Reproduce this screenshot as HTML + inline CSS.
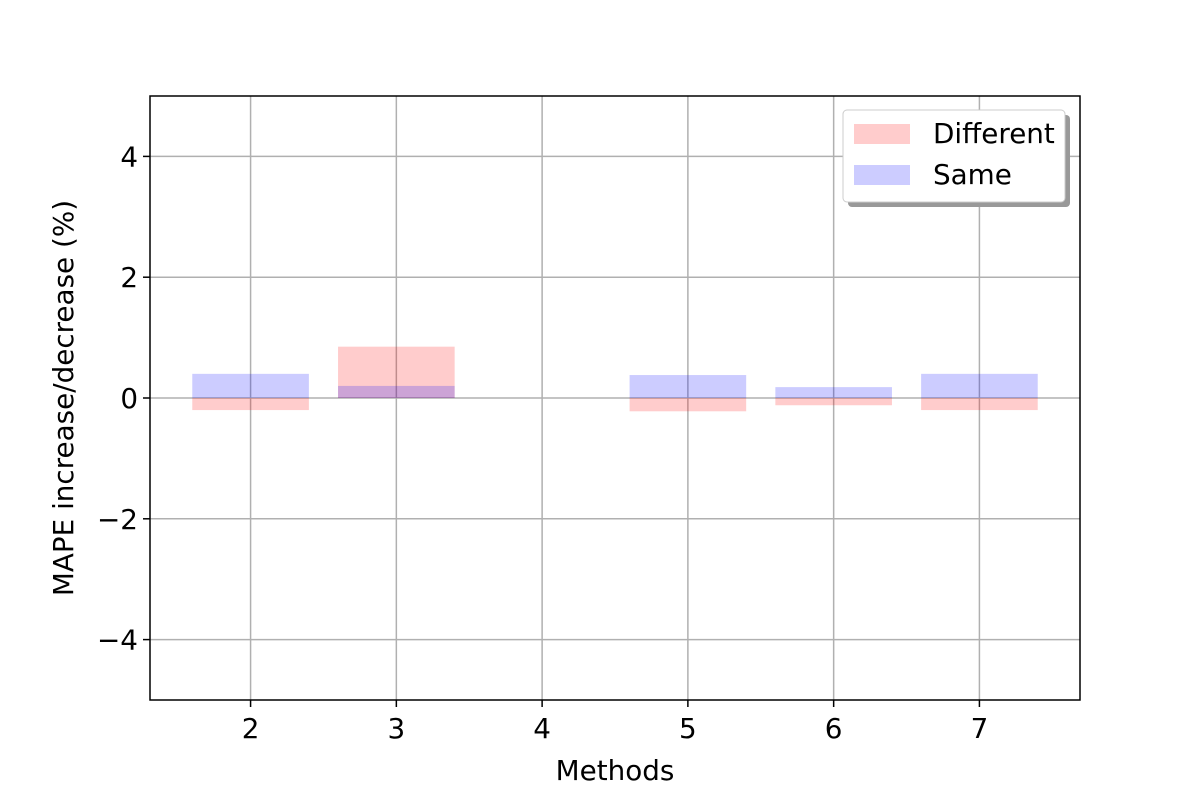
<!DOCTYPE html>
<html><head><meta charset="utf-8"><style>
body{margin:0;background:#fff;}
svg text{font-family:"DejaVu Sans","Liberation Sans",sans-serif;font-size:27.8px;fill:#000;}
</style></head><body>
<svg id="chart" width="1200" height="800">
<rect width="1200" height="800" fill="#fff"/>
<g id="grid"></g><g id="bars"></g><g id="axes"></g>
<g>
<rect x="848" y="115" width="222" height="92" rx="4" fill="#999"/>
<rect x="843" y="110" width="222" height="92" rx="4" fill="#fff" stroke="#ccc"/>
<rect x="854" y="124" width="56" height="20" fill="#f00" fill-opacity="0.2"/>
<text x="933" y="143">Different</text>
<rect x="854" y="165" width="56" height="20" fill="#00f" fill-opacity="0.2"/>
<text x="933" y="184">Same</text>
</g>
</svg>
<script>
const categories=[2,3,4,5,6,7];
const different=[-0.2,0.85,0,-0.22,-0.12,-0.2];
const same=[0.4,0.2,0,0.38,0.18,0.4];
const yTicks=[-4,-2,0,2,4];
const L=150,R=1080,T=96,B=700,xmin=1.31,xmax=7.69,ymin=-5,ymax=5;
const X=v=>L+(v-xmin)/(xmax-xmin)*(R-L);
const Y=v=>B-(v-ymin)/(ymax-ymin)*(B-T);
const NS="http://www.w3.org/2000/svg";
function mk(tag,attrs,parent,text){const e=document.createElementNS(NS,tag);for(const k in attrs)e.setAttribute(k,attrs[k]);if(text!==undefined)e.textContent=text;parent.appendChild(e);return e;}
const grid=document.getElementById('grid'),bars=document.getElementById('bars'),axes=document.getElementById('axes');
categories.forEach(c=>{const g=mk('line',{x1:X(c),x2:X(c),y1:T,y2:B,stroke:'#b0b0b0','stroke-width':1.5},grid);


mk('line',{x1:X(c),x2:X(c),y1:B,y2:B+7,stroke:'#000','stroke-width':1.5},axes);
const t=mk('text',{x:X(c),y:B+38,'text-anchor':'middle'},axes,String(c));

});
yTicks.forEach(v=>{const g=mk('line',{x1:L,x2:R,y1:Y(v),y2:Y(v),stroke:'#b0b0b0','stroke-width':1.5},grid);


mk('line',{x1:L-7,x2:L,y1:Y(v),y2:Y(v),stroke:'#000','stroke-width':1.5},axes);
const t=mk('text',{x:L-12,y:Y(v)+10,'text-anchor':'end'},axes,(v<0?'\u2212':'')+Math.abs(v));

});
function drawSeries(vals,color,name){vals.forEach((v,i)=>{const c=categories[i];
const r=mk('rect',{x:X(c-0.4),width:X(c+0.4)-X(c-0.4),y:Math.min(Y(v),Y(0)),height:Math.abs(Y(v)-Y(0)),fill:color,'fill-opacity':0.2},bars);

});}
drawSeries(different,'#f00','different');
drawSeries(same,'#00f','same');
const f=mk('rect',{x:L,y:T,width:R-L,height:B-T,fill:'none',stroke:'#000','stroke-width':1.5},axes);


const xt=mk('text',{x:(L+R)/2,y:780,'text-anchor':'middle'},axes,'Methods');


const yt=mk('text',{x:0,y:0,'text-anchor':'middle',transform:`translate(73,${(T+B)/2}) rotate(-90)`},axes,'MAPE increase/decrease (%)');


</script>
</body></html>
